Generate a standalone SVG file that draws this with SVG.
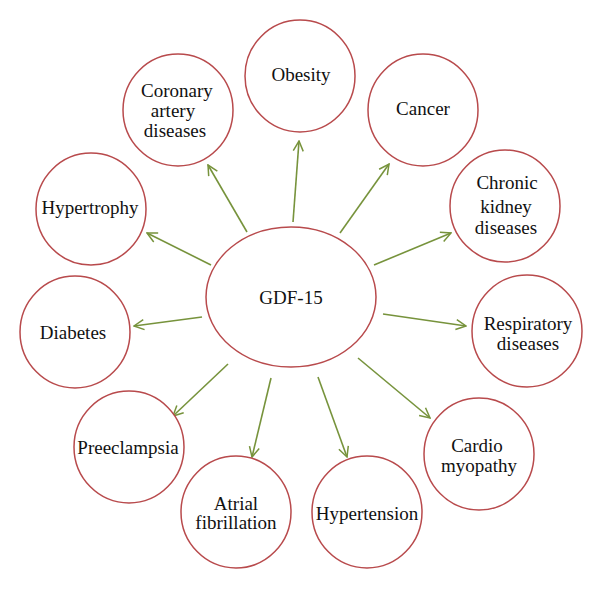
<svg xmlns="http://www.w3.org/2000/svg" width="600" height="589" viewBox="0 0 600 589">
<style>
.n{fill:#fff;stroke:#B84A4C;stroke-width:1.5}
.t{font-family:"Liberation Serif","Times New Roman",serif;font-size:19px;fill:#111;text-anchor:middle;dominant-baseline:central}
.c line{stroke:#77933C;stroke-width:1.6;marker-end:url(#ah)}
</style>
<defs>
<marker id="ah" viewBox="0 0 12 12" refX="11" refY="6" markerWidth="12" markerHeight="12" markerUnits="userSpaceOnUse" orient="auto">
<path d="M1,1 L11,6 L1,11" fill="none" stroke="#77933C" stroke-width="1.5"/>
</marker>
</defs>
<rect width="600" height="589" fill="#fff"/>
<g class="c" id="connectors">
<line x1="247" y1="232" x2="208" y2="165"/>
<line x1="293" y1="222" x2="299" y2="141"/>
<line x1="340" y1="233" x2="389" y2="164"/>
<line x1="374" y1="265" x2="451" y2="233"/>
<line x1="383" y1="314" x2="466" y2="326"/>
<line x1="358" y1="358" x2="430" y2="418"/>
<line x1="318" y1="377" x2="347" y2="457"/>
<line x1="271" y1="378" x2="252" y2="457"/>
<line x1="228" y1="364" x2="173" y2="416"/>
<line x1="202" y1="317" x2="134" y2="326"/>
<line x1="211" y1="265" x2="147" y2="233"/>
</g>
<g id="gdf15"><ellipse class="n" cx="291" cy="297" rx="85" ry="70"/><text class="t" x="291" y="297">GDF-15</text></g>
<g id="obesity"><ellipse class="n" cx="300" cy="76" rx="55" ry="56"/><text class="t" x="301" y="74">Obesity</text></g>
<g id="coronary"><ellipse class="n" cx="178" cy="110" rx="55" ry="56"/><text class="t" x="177" y="90">Coronary</text><text class="t" x="173" y="110">artery</text><text class="t" x="175" y="130">diseases</text></g>
<g id="cancer"><ellipse class="n" cx="423" cy="110" rx="55" ry="56"/><text class="t" x="423" y="108">Cancer</text></g>
<g id="ckd"><ellipse class="n" cx="505" cy="206" rx="55" ry="56"/><text class="t" x="507" y="182">Chronic</text><text class="t" x="506" y="206">kidney</text><text class="t" x="506" y="227">diseases</text></g>
<g id="hypertrophy"><ellipse class="n" cx="91" cy="209" rx="55" ry="56"/><text class="t" x="90" y="207">Hypertrophy</text></g>
<g id="diabetes"><ellipse class="n" cx="75" cy="332" rx="55" ry="56"/><text class="t" x="73" y="332">Diabetes</text></g>
<g id="respiratory"><ellipse class="n" cx="527" cy="331" rx="55" ry="56"/><text class="t" x="528" y="323">Respiratory</text><text class="t" x="528" y="343">diseases</text></g>
<g id="cardio"><ellipse class="n" cx="479" cy="454" rx="55" ry="56"/><text class="t" x="477" y="445">Cardio</text><text class="t" x="479" y="465">myopathy</text></g>
<g id="preeclampsia"><ellipse class="n" cx="129" cy="447" rx="55" ry="56"/><text class="t" x="128" y="447">Preeclampsia</text></g>
<g id="atrial"><ellipse class="n" cx="236" cy="512" rx="55" ry="56"/><text class="t" x="236" y="503">Atrial</text><text class="t" x="236" y="522">fibrillation</text></g>
<g id="hypertension"><ellipse class="n" cx="367" cy="512" rx="55" ry="56"/><text class="t" x="367" y="513">Hypertension</text></g>
</svg>
